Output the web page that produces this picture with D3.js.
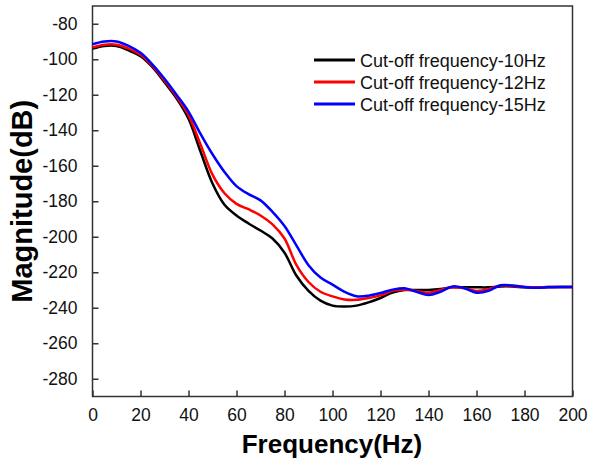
<!DOCTYPE html>
<html lang="en">
  <head>
    <meta charset="utf-8" />
    <title>Magnitude</title>
    <script type="text/javascript" src="https://cdn.jsdelivr.net/npm/d3@7"></script>
    <style type="text/css">
      body { margin: 0; background: #fff; }
      text { font-family: "Liberation Sans", Arial, sans-serif; }
    </style>
  </head>

  <body>
    <script type="text/javascript">
      // frekvenser (Hz)
      const freq = [0, 5, 10, 15, 20, 25, 30, 35, 40, 45, 50, 55, 60, 65, 70, 75, 80, 85, 90, 95,
        100, 105, 110, 115, 120, 125, 130, 135, 140, 145, 150, 155, 160, 165, 170, 175, 180, 185, 190, 195, 200];

      const mag10 = [-94, -92.5, -92.5, -95, -98.3, -104.5, -113, -122, -133.5, -152, -170, -182, -188, -192.5,
        -196.5, -201, -209, -222, -230.5, -236, -238.8, -239.3, -238.8, -237, -234.5, -231.5, -230, -230,
        -230, -229.5, -228.5, -228.5, -228.5, -228.5, -228, -228, -228.5, -228.5, -228.3, -228.3, -228.3];

      const mag12 = [-93.3, -91.8, -91.8, -94, -97.5, -103.8, -112, -121, -131.5, -148, -165, -175.5, -181.5,
        -184.5, -188, -193, -201, -216, -225.5, -231, -233.6, -235.3, -235.5, -234.5, -233, -230.5, -229.8,
        -230.5, -231.5, -230, -228.5, -229, -230.5, -229.5, -227.5, -227.8, -228.3, -228.5, -228.3, -228.3, -228.3];

      const mag15 = [-91.5, -90, -90, -92.5, -96.4, -103, -111, -120, -129.5, -142, -153.5, -163.5, -171.5,
        -176, -179.5, -186, -194, -205, -216, -223, -227, -231, -233.5, -233.2, -231.7, -229.8, -229, -231,
        -232.8, -231, -228, -229, -231.5, -230.5, -227.3, -227.5, -228.3, -228.8, -228.5, -228.3, -228.3];

      const seriesNames = ["Cut-off frequency-10Hz", "Cut-off frequency-12Hz", "Cut-off frequency-15Hz"];
      const seriesColors = ["#000000", "#ff0000", "#0000ff"];
      const xTicks = [0, 20, 40, 60, 80, 100, 120, 140, 160, 180, 200];
      const yTicks = [-80, -100, -120, -140, -160, -180, -200, -220, -240, -260, -280];

      const W = 590, H = 465;
      const m = { left: 92.5, right: 17.5, top: 6, bottom: 68.5 };

      const svg = d3.select("body").append("svg").attr("width", W).attr("height", H);

      const x = d3.scaleLinear().domain([0, 200]).range([m.left, W - m.right]);
      const y = d3.scaleLinear().domain([-290, -70]).range([H - m.bottom, m.top]);

      // almindelig bindestreg som minus, som i originalen
      const fmt = function (d) { return String(d); };

      // akser med indadvendte ticks
      const gx = svg.append("g")
        .attr("transform", "translate(0," + (H - m.bottom) + ")")
        .call(d3.axisBottom(x).tickValues(xTicks).tickFormat(fmt).tickSizeInner(-6).tickSizeOuter(0).tickPadding(12));
      const gy = svg.append("g")
        .attr("transform", "translate(" + m.left + ",0)")
        .call(d3.axisLeft(y).tickValues(yTicks).tickFormat(fmt).tickSizeInner(-6).tickSizeOuter(0).tickPadding(15));

      [gx, gy].forEach(function (g) {
        g.select(".domain").remove();
        g.selectAll(".tick line").attr("stroke", "#333").attr("stroke-width", 1.5);
        g.selectAll(".tick text").attr("fill", "#111").style("font-size", "17.5px");
      });

      // ramme
      svg.append("rect")
        .attr("x", m.left).attr("y", m.top)
        .attr("width", W - m.left - m.right).attr("height", H - m.top - m.bottom)
        .attr("fill", "none").attr("stroke", "#333").attr("stroke-width", 1.5);

      // kurver
      const all = [mag10, mag12, mag15];
      const line = d3.line()
        .x(function (d, i) { return x(freq[i]); })
        .y(function (d) { return y(d); })
        .curve(d3.curveCatmullRom);

      all.forEach(function (s, k) {
        svg.append("path")
          .attr("d", line(s))
          .attr("fill", "none")
          .attr("stroke", seriesColors[k])
          .attr("stroke-width", 2.5);
      });

      // legende
      const leg = svg.append("g");
      seriesNames.forEach(function (name, k) {
        const ly = 60 + k * 22;
        leg.append("line")
          .attr("x1", 314).attr("x2", 355).attr("y1", ly).attr("y2", ly)
          .attr("stroke", seriesColors[k]).attr("stroke-width", 3);
        leg.append("text")
          .attr("x", 360).attr("y", ly + 6.5)
          .style("font-size", "18px").attr("fill", "#111")
          .text(name);
      });

      // aksetitler
      svg.append("text")
        .attr("x", 332).attr("y", 453)
        .attr("text-anchor", "middle")
        .style("font-size", "26px").style("font-weight", "bold")
        .text("Frequency(Hz)");
      svg.append("text")
        .attr("transform", "translate(32," + (m.top + (H - m.bottom - m.top) / 2) + ") rotate(-90)")
        .attr("text-anchor", "middle")
        .style("font-size", "29px").style("font-weight", "bold")
        .text("Magnitude(dB)");
    </script>
  </body>
</html>
